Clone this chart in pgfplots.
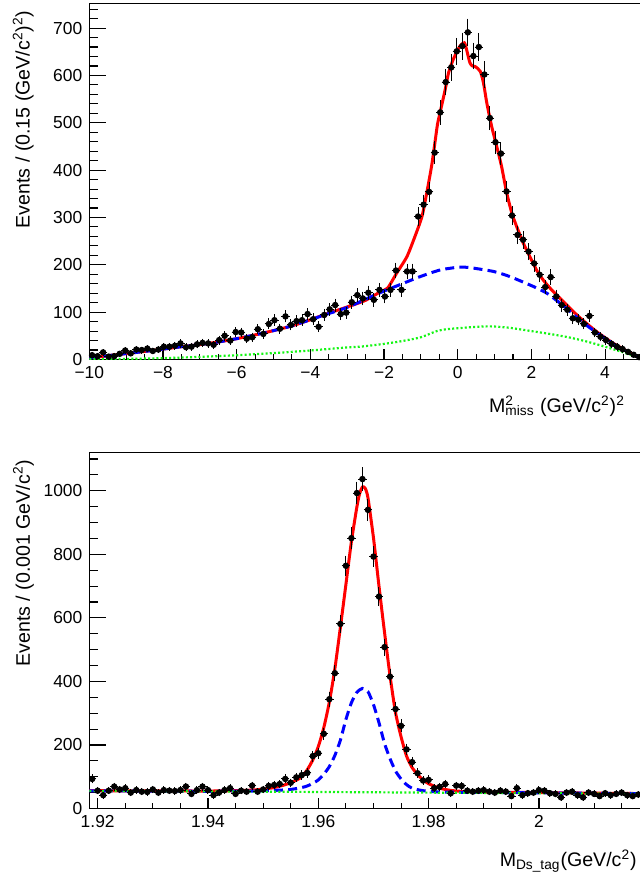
\documentclass[border=0pt]{standalone}
\usepackage{fontspec}
\setmainfont{Liberation Sans}
\usepackage{pgfplots}
\pgfplotsset{compat=1.18}
\usepackage{pgfplotstable}

\definecolor{rootred}{RGB}{255,0,0}
\definecolor{rootblue}{RGB}{0,0,255}
\definecolor{rootgreen}{RGB}{20,245,20}

\pgfplotstableread{
x y
-9.925 9
-9.775 7
-9.625 15
-9.475 6
-9.325 7
-9.175 12
-9.025 19
-8.875 13
-8.725 21
-8.575 20
-8.425 23
-8.275 18
-8.125 21
-7.975 27
-7.825 27
-7.675 29
-7.525 34
-7.375 26
-7.225 27
-7.075 32
-6.925 35
-6.775 34
-6.625 31
-6.475 41
-6.325 50
-6.175 40
-6.025 58
-5.875 57
-5.725 44
-5.575 47
-5.425 64
-5.275 54
-5.125 75
-4.975 83
-4.825 65
-4.675 91
-4.525 73
-4.375 81
-4.225 83
-4.075 96
-3.925 85
-3.775 69
-3.625 94
-3.475 106
-3.325 115
-3.175 96
-3.025 99
-2.875 121
-2.725 136
-2.575 129
-2.425 141
-2.275 126
-2.125 147
-1.975 133
-1.825 147
-1.675 188
-1.525 147
-1.375 186
-1.225 186
-1.075 302
-0.925 327
-0.775 354
-0.625 437
-0.475 522
-0.325 586
-0.175 617
-0.025 651
0.125 662
0.275 691
0.425 641
0.575 660
0.725 602
0.875 510
1.025 459
1.175 435
1.325 355
1.475 304
1.625 263
1.775 253
1.925 228
2.075 203
2.225 179
2.375 153
2.525 174
2.675 133
2.825 115
2.975 105
3.125 87
3.275 84
3.425 75
3.575 92
3.725 57
3.875 48
4.025 41
4.175 33
4.325 27
4.475 22
4.625 16
4.775 10
4.925 5
}\topdata

\pgfplotstableread{
x y
1.919 93
1.920 56
1.921 42
1.922 56
1.923 69
1.924 60
1.925 64
1.926 50
1.927 58
1.928 53
1.929 52
1.930 60
1.931 50
1.932 58
1.933 56
1.934 55
1.935 58
1.936 69
1.937 46
1.938 58
1.939 69
1.940 58
1.941 42
1.942 50
1.943 58
1.944 64
1.945 46
1.946 56
1.947 53
1.948 72
1.949 53
1.950 60
1.951 71
1.952 74
1.953 77
1.954 93
1.955 81
1.956 98
1.957 105
1.958 112
1.959 165
1.960 174
1.961 235
1.962 344
1.963 426
1.964 581
1.965 764
1.966 851
1.967 993
1.968 1037
1.969 940
1.970 793
1.971 667
1.972 508
1.973 415
1.974 313
1.975 260
1.976 186
1.977 146
1.978 111
1.979 88
1.980 90
1.981 64
1.982 68
1.983 77
1.984 48
1.985 72
1.986 71
1.987 56
1.988 53
1.989 56
1.990 58
1.991 53
1.992 50
1.993 56
1.994 53
1.995 39
1.996 64
1.997 42
1.998 48
1.999 50
2.000 58
2.001 56
2.002 48
2.003 46
2.004 35
2.005 50
2.006 53
2.007 42
2.008 35
2.009 50
2.010 46
2.011 39
2.012 48
2.013 42
2.014 46
2.015 50
2.016 42
2.017 39
2.018 44
}\botdata

\pgfplotsset{
  rootaxis/.style={
    scale only axis,
    axis line style={line width=0.6pt},
    tick align=inside,
    tick pos=left,
    major tick length=8.4pt,
    minor tick length=4.4pt,
    every tick/.style={black, line width=0.55pt},
    x tick style={/pgfplots/major tick length=5.3pt,/pgfplots/minor tick length=2.6pt},
    ticklabel style={font=\fontsize{8.7}{10}\selectfont},
    /pgf/number format/assume math mode=true,
    /pgf/number format/1000 sep={},
    label style={font=\fontsize{9.8}{11.5}\selectfont},
    ymin=0,
  },
  datapts/.style={black, mark=*, mark size=1.35pt, only marks, line width=0.5pt,
    error bars/.cd, x dir=both, x explicit, y dir=both, y explicit,
    error bar style={line width=0.5pt, black},
    error mark options={mark size=0.7pt, line width=0.5pt, black}},
  redfit/.style={rootred, line width=1.5pt, no marks, smooth, tension=0.4},
  bluefit/.style={rootblue, line width=1.5pt, no marks, smooth, tension=0.4, dash pattern=on 4.5pt off 2.6pt},
  greenfit/.style={rootgreen, line width=1.1pt, no marks, smooth, tension=0.4, dash pattern=on 1pt off 1.1pt},
}

\begin{document}
\begin{tikzpicture}
\useasboundingbox (0,0) rectangle (319.5pt,439.5pt);

% ---------------- top panel ----------------
\begin{axis}[rootaxis,
  at={(44.65pt,259.75pt)}, anchor=south west,
  width=276.3pt, height=178pt,
  xmin=-10, xmax=5, ymax=752,
  xtick={-10,-8,-6,-4,-2,0,2,4},
  xticklabels={−10,−8,−6,−4,−2,0,2,4},
  minor xtick={-10,-9.5,...,5},
  ytick={0,100,...,700},
  minor ytick={0,20,...,740},
  xlabel={M\rlap{\textsuperscript{2}}\textsubscript{miss} (GeV/c\textsuperscript{2})\textsuperscript{2}},
  xlabel style={at={(axis description cs:0.982,-0.150)}, anchor=base east},
  ylabel={Events / (0.15 (GeV/c\textsuperscript{2})\textsuperscript{2})},
  ylabel style={at={(axis description cs:-0.108,1)}, anchor=base east},
]
\addplot[redfit] coordinates {
(-10,3) (-9.5,8) (-9,12.5) (-8.5,17) (-8,22) (-7.5,27) (-7,31.5) (-6.5,37)
(-6,44) (-5.5,52) (-5,61) (-4.5,71) (-4,84) (-3.5,98) (-3,111) (-2.5,125)
(-2.1,143) (-1.9,151) (-1.66,182) (-1.38,217) (-1.16,260) (-0.97,302)
(-0.84,352) (-0.71,408) (-0.62,457) (-0.55,496) (-0.48,521) (-0.34,570)
(-0.25,605) (-0.12,634) (0.06,662) (0.18,669) (0.24,655) (0.33,627)
(0.40,620) (0.47,619) (0.61,609) (0.70,584) (0.79,542) (0.92,493)
(1.06,450) (1.19,408) (1.33,352) (1.47,309) (1.60,281) (1.78,246)
(1.96,217) (2.14,189) (2.32,168) (2.55,147) (2.78,129) (3.0,112)
(3.25,93) (3.5,76) (3.75,60) (4.0,46) (4.25,33) (4.5,22) (4.75,11) (5.0,2)
};
\addplot[bluefit] coordinates {
(-10,3) (-9.5,8) (-9,12.5) (-8.5,17) (-8,22) (-7.5,27) (-7,31.5) (-6.5,37)
(-6,44) (-5.5,52) (-5,61) (-4.5,71) (-4,84) (-3.5,97) (-3,110) (-2.65,122)
(-2.11,141) (-1.57,158) (-1.02,175) (-0.48,189) (0.03,195) (0.33,194)
(0.97,186) (1.42,175) (2.06,154) (2.42,140) (2.78,119) (3.0,105) (3.25,88)
(3.5,72) (3.75,58) (4.0,45) (4.25,32) (4.5,21) (4.75,10) (5.0,2)
};
\addplot[greenfit] coordinates {
(-10,0.5) (-9,1.2) (-8,2.8) (-7,5.5) (-6,9) (-5,13.5) (-4,19) (-3,25.5)
(-2.65,27) (-2,33) (-1.5,39) (-1,47) (-0.57,60) (-0.3,64) (0,66) (0.5,69)
(0.9,70) (1.4,67) (2,60) (2.5,54) (3,47) (3.5,38) (4,27) (4.5,15) (4.9,5) (5,3)
};
\addplot[datapts] table[x=x, y=y, x error expr=0.075, y error expr=sqrt(\thisrow{y})] {\topdata};
\end{axis}

% ---------------- bottom panel ----------------
\begin{axis}[rootaxis,
  at={(44.7pt,35.25pt)}, anchor=south west,
  width=275.8pt, height=177.9pt,
  xmin=1.9185, xmax=2.0185, ymax=1120,
  xtick={1.92,1.94,1.96,1.98,2.00},
  xticklabels={1.92,1.94,1.96,1.98,2},
  minor xtick={1.925,1.93,1.935,1.945,1.95,1.955,1.965,1.97,1.975,1.985,1.99,1.995,2.005,2.01,2.015},
  ytick={0,200,...,1000},
  minor ytick={0,50,...,1100},
  xlabel={M\textsubscript{Ds\_tag}(GeV/c\textsuperscript{2})},
  xlabel style={at={(axis description cs:1.005,-0.164)}, anchor=base east},
  ylabel={Events / (0.001 GeV/c\textsuperscript{2})},
  ylabel style={at={(axis description cs:-0.108,1)}, anchor=base east},
]
\addplot[redfit] coordinates {
(1.9185,56) (1.93,55.5) (1.94,55) (1.945,56) (1.948,58) (1.950,61) (1.952,66)
(1.954,75) (1.956,89) (1.957,100) (1.958,122) (1.959,153) (1.960,195)
(1.961,255) (1.962,335) (1.963,440) (1.964,570) (1.965,705) (1.966,840)
(1.967,950) (1.9675,992) (1.968,1012) (1.9685,1008) (1.969,978) (1.970,852)
(1.971,700) (1.972,555) (1.973,418) (1.974,302) (1.975,226) (1.976,165)
(1.977,129) (1.978,107) (1.979,90) (1.980,78) (1.982,64) (1.984,57)
(1.986,54) (1.99,52) (2.0,50) (2.0185,47)
};
\addplot[bluefit] coordinates {
(1.9185,55.8) (1.93,54.8) (1.94,54.2) (1.948,55) (1.952,57) (1.955,60)
(1.957,66) (1.958,71) (1.959,79) (1.960,90) (1.961,108) (1.962,132)
(1.963,167) (1.964,215) (1.965,280) (1.966,333) (1.967,366) (1.968,378)
(1.969,368) (1.970,327) (1.971,270) (1.972,205) (1.973,157) (1.974,118)
(1.975,93) (1.976,75) (1.977,64) (1.979,56) (1.982,52) (1.99,50.5) (2.0185,47)
};
\addplot[greenfit] coordinates {
(1.9185,55.5) (1.95,53) (1.98,50) (2.0185,46.5)
};
\addplot[datapts] table[x=x, y=y, x error expr=0.0005, y error expr=sqrt(\thisrow{y})] {\botdata};
\end{axis}
\end{tikzpicture}
\end{document}
